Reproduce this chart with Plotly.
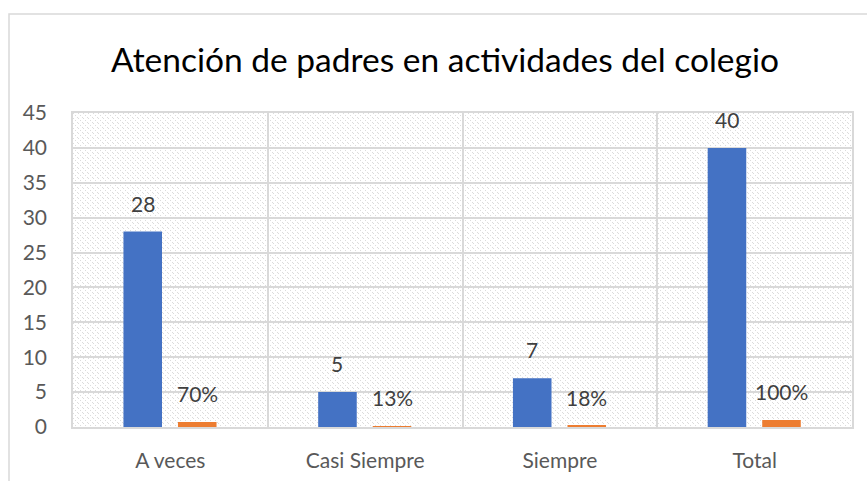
import plotly.graph_objects as go
import urllib.parse

categories = ["A veces", "Casi Siempre", "Siempre", "Total"]
counts = [28, 5, 7, 40]
shares = [0.70, 0.125, 0.175, 1.0]
share_labels = ["70%", "13%", "18%", "100%"]
y_max = 45
y_step = 5
title_text = "Atención de padres en actividades del colegio"

W, H = 867, 481
L, R, T, B = 73, 15, 113, 54

FONT = "Lato, 'Open Sans', sans-serif"
BLUE = "#4472C4"
ORANGE = "#ED7D31"
GRID = "#d9d9d9"

BAR_W = 0.198
BLUE_OFF = -0.241
ORANGE_OFF = 0.039

pw, ph = W - L - R, H - T - B
cat_px = pw / len(categories)

# hatched plot-area background as an SVG pattern image
P = 5
svg = (
    f'<svg xmlns="http://www.w3.org/2000/svg" width="{pw}" height="{ph}">'
    f'<defs><pattern id="p" width="{P}" height="{P}" patternUnits="userSpaceOnUse">'
    f'<path d="M0,0 L{P},{P} M-1,{P-1} L1,{P+1} M{P-1},-1 L{P+1},1" '
    f'stroke="#dcdcdc" stroke-width="1" stroke-dasharray="1.4,1.4" '
    f'shape-rendering="crispEdges"/></pattern></defs>'
    f'<rect width="100%" height="100%" fill="white"/>'
    f'<rect width="100%" height="100%" fill="url(#p)"/></svg>'
)
svg_uri = "data:image/svg+xml;charset=utf-8," + urllib.parse.quote(svg)

fig = go.Figure()

fig.add_trace(go.Bar(
    x=categories, y=counts, width=BAR_W, offset=BLUE_OFF,
    marker=dict(color=BLUE, line=dict(width=0)), name="Cantidad", showlegend=False,
))
fig.add_trace(go.Bar(
    x=categories, y=shares, width=BAR_W, offset=ORANGE_OFF,
    marker=dict(color=ORANGE, line=dict(width=0)), name="Porcentaje", showlegend=False,
))

# data labels
for c, v in zip(categories, counts):
    fig.add_annotation(x=c, y=v, xshift=(BLUE_OFF + BAR_W / 2) * cat_px, text=str(v),
                       showarrow=False, yanchor="bottom", yshift=14,
                       font=dict(family=FONT, size=21, color="#404040"))
for c, v, t in zip(categories, shares, share_labels):
    fig.add_annotation(x=c, y=v, xshift=(ORANGE_OFF + BAR_W / 2) * cat_px, text=t,
                       showarrow=False, yanchor="bottom", yshift=14,
                       font=dict(family=FONT, size=21, color="#404040"))

fig.add_layout_image(dict(source=svg_uri, xref="paper", yref="paper", x=0, y=1,
                          sizex=1, sizey=1, xanchor="left", yanchor="top",
                          sizing="stretch", layer="below"))

# outer chart border
fig.add_shape(type="rect", xref="paper", yref="paper",
              x0=(9 - L) / pw, x1=(W + 20 - L) / pw,
              y0=(H - B - (H + 20)) / ph, y1=(H - B - 14) / ph,
              line=dict(color=GRID, width=1.5), fillcolor="rgba(0,0,0,0)", layer="below")

fig.update_layout(
    width=W, height=H,
    margin=dict(l=L, r=R, t=T, b=B),
    paper_bgcolor="white", plot_bgcolor="rgba(0,0,0,0)",
    barmode="overlay",
    title=dict(text=title_text, x=445 / W, xanchor="center", y=1 - 60 / H, yanchor="middle",
               font=dict(family=FONT, size=33.5, color="#000000")),
    font=dict(family=FONT),
    xaxis=dict(type="category", range=[-0.5, 3.5], tickson="boundaries",
               showgrid=True, gridcolor=GRID, gridwidth=1.5,
               showline=True, linecolor=GRID, linewidth=1.5, mirror=True,
               ticks="", ticklabelstandoff=14, automargin=False,
               tickfont=dict(family=FONT, size=21, color="#595959"), zeroline=False),
    yaxis=dict(range=[0, y_max], dtick=y_step, tick0=0,
               showgrid=True, gridcolor=GRID, gridwidth=1.5,
               showline=True, linecolor=GRID, linewidth=1.5, mirror=True,
               ticks="", ticklabelstandoff=20, automargin=False,
               tickfont=dict(family=FONT, size=21, color="#595959"), zeroline=False),
)

fig.write_html("out.html", config={"displayModeBar": False},
               post_script="document.body.style.margin='0';document.body.style.overflow='hidden';")
